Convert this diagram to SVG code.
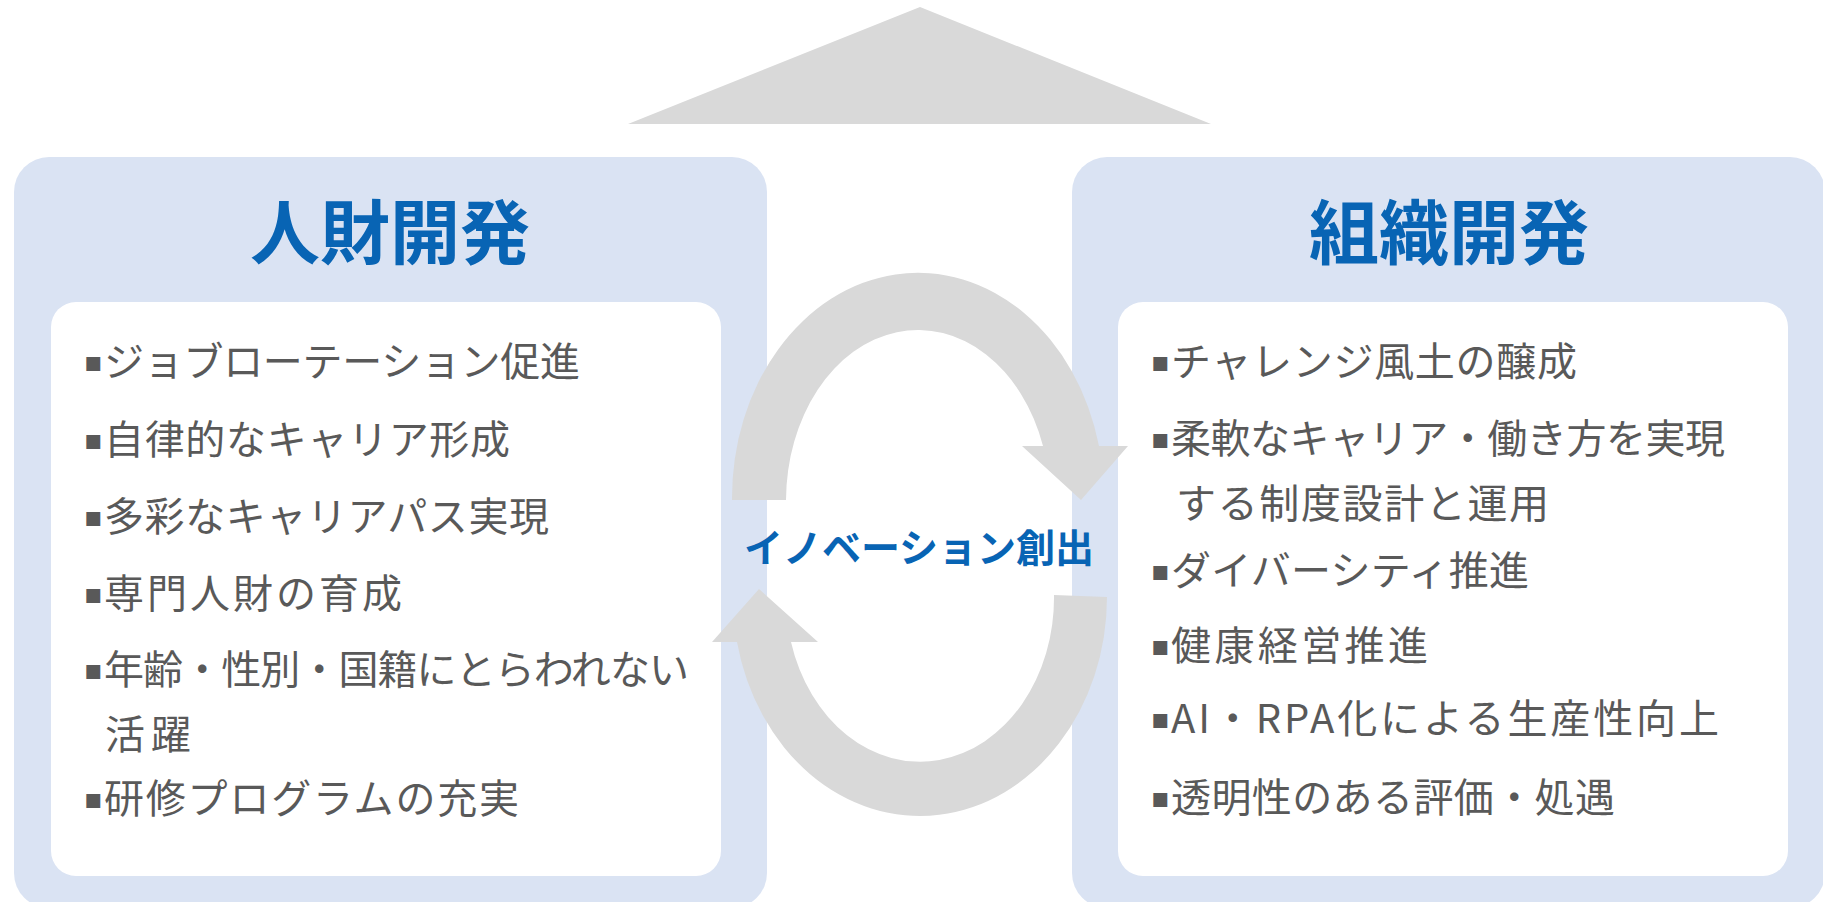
<svg xmlns="http://www.w3.org/2000/svg" width="1823" height="902" viewBox="0 0 1823 902">
<style>
.outer{fill:#DAE3F3}
.inner{fill:#FFFFFF}
.title{font-family:"Noto Sans CJK JP","Noto Sans",sans-serif;font-weight:700;font-size:70px;fill:#0864B4;text-anchor:middle}
.item{font-family:"Noto Sans CJK JP","Noto Sans",sans-serif;font-size:40px;fill:#595959}
.b{font-family:"DejaVu Sans",sans-serif;font-size:28px;fill:#595959}
.arrow{fill:#D9D9D9}
.center{font-family:"Noto Sans CJK JP","Noto Sans",sans-serif;font-weight:700;font-size:39px;fill:#0864B4;text-anchor:middle}
</style>
<polygon id="roof" class="arrow" points="920,7 1211,124 628,124"/>
<g id="node-jinzai">
<rect class="outer" x="14" y="157" width="753" height="751" rx="35"/>
<rect class="inner" x="51" y="302" width="670" height="574" rx="25"/>
<text class="title" x="390" y="259">人財開発</text>
<text class="item"><tspan class="b" x="84" y="371">▪</tspan><tspan x="104" y="376" textLength="476" lengthAdjust="spacing">ジョブローテーション促進</tspan></text>
<text class="item"><tspan class="b" x="84" y="449">▪</tspan><tspan x="104" y="454" textLength="406" lengthAdjust="spacing">自律的なキャリア形成</tspan></text>
<text class="item"><tspan class="b" x="84" y="526">▪</tspan><tspan x="104" y="531" textLength="445" lengthAdjust="spacing">多彩なキャリアパス実現</tspan></text>
<text class="item"><tspan class="b" x="84" y="603">▪</tspan><tspan x="104" y="608" textLength="298" lengthAdjust="spacing">専門人財の育成</tspan></text>
<text class="item"><tspan class="b" x="84" y="679">▪</tspan><tspan x="104" y="684" textLength="585" lengthAdjust="spacing">年齢・性別・国籍にとらわれない</tspan></text>
<text class="item" x="105" y="749" textLength="86" lengthAdjust="spacing">活躍</text>
<text class="item"><tspan class="b" x="84" y="808">▪</tspan><tspan x="104" y="813" textLength="415" lengthAdjust="spacing">研修プログラムの充実</tspan></text>
</g>
<g id="node-soshiki">
<rect class="outer" x="1072" y="157" width="753" height="751" rx="35"/>
<rect class="inner" x="1118" y="302" width="670" height="574" rx="25"/>
<text class="title" x="1449" y="259">組織開発</text>
<text class="item"><tspan class="b" x="1151" y="371">▪</tspan><tspan x="1171" y="376" textLength="406" lengthAdjust="spacing">チャレンジ風土の醸成</tspan></text>
<text class="item"><tspan class="b" x="1151" y="448">▪</tspan><tspan x="1171" y="453" textLength="554" lengthAdjust="spacing">柔軟なキャリア・働き方を実現</tspan></text>
<text class="item" x="1176" y="518" textLength="373" lengthAdjust="spacing">する制度設計と運用</text>
<text class="item"><tspan class="b" x="1151" y="580">▪</tspan><tspan x="1171" y="585" textLength="358" lengthAdjust="spacing">ダイバーシティ推進</tspan></text>
<text class="item"><tspan class="b" x="1151" y="655">▪</tspan><tspan x="1171" y="660" textLength="257" lengthAdjust="spacing">健康経営推進</tspan></text>
<text class="item"><tspan class="b" x="1151" y="728">▪</tspan><tspan x="1171" y="733" textLength="548" lengthAdjust="spacing">AI・RPA化による生産性向上</tspan></text>
<text class="item"><tspan class="b" x="1151" y="807">▪</tspan><tspan x="1171" y="812" textLength="444" lengthAdjust="spacing">透明性のある評価・処遇</tspan></text>
</g>
<g id="connectors">
<path class="arrow" d="M732,500 A186,225 0 0 1 1099,446 L1128,446 L1081,500 L1022,446 L1043,446 A132,171 0 0 0 786,500 Z"/>
<path class="arrow" d="M1107,597 A187,219 0 0 1 737,642 L712,642 L759,589 L818,642 L791,642 A134,164 0 0 0 1054,595 Z"/>
</g>
<g id="label">
<text class="center" x="919" y="562">イノベーション創出</text>
</g>
</svg>
